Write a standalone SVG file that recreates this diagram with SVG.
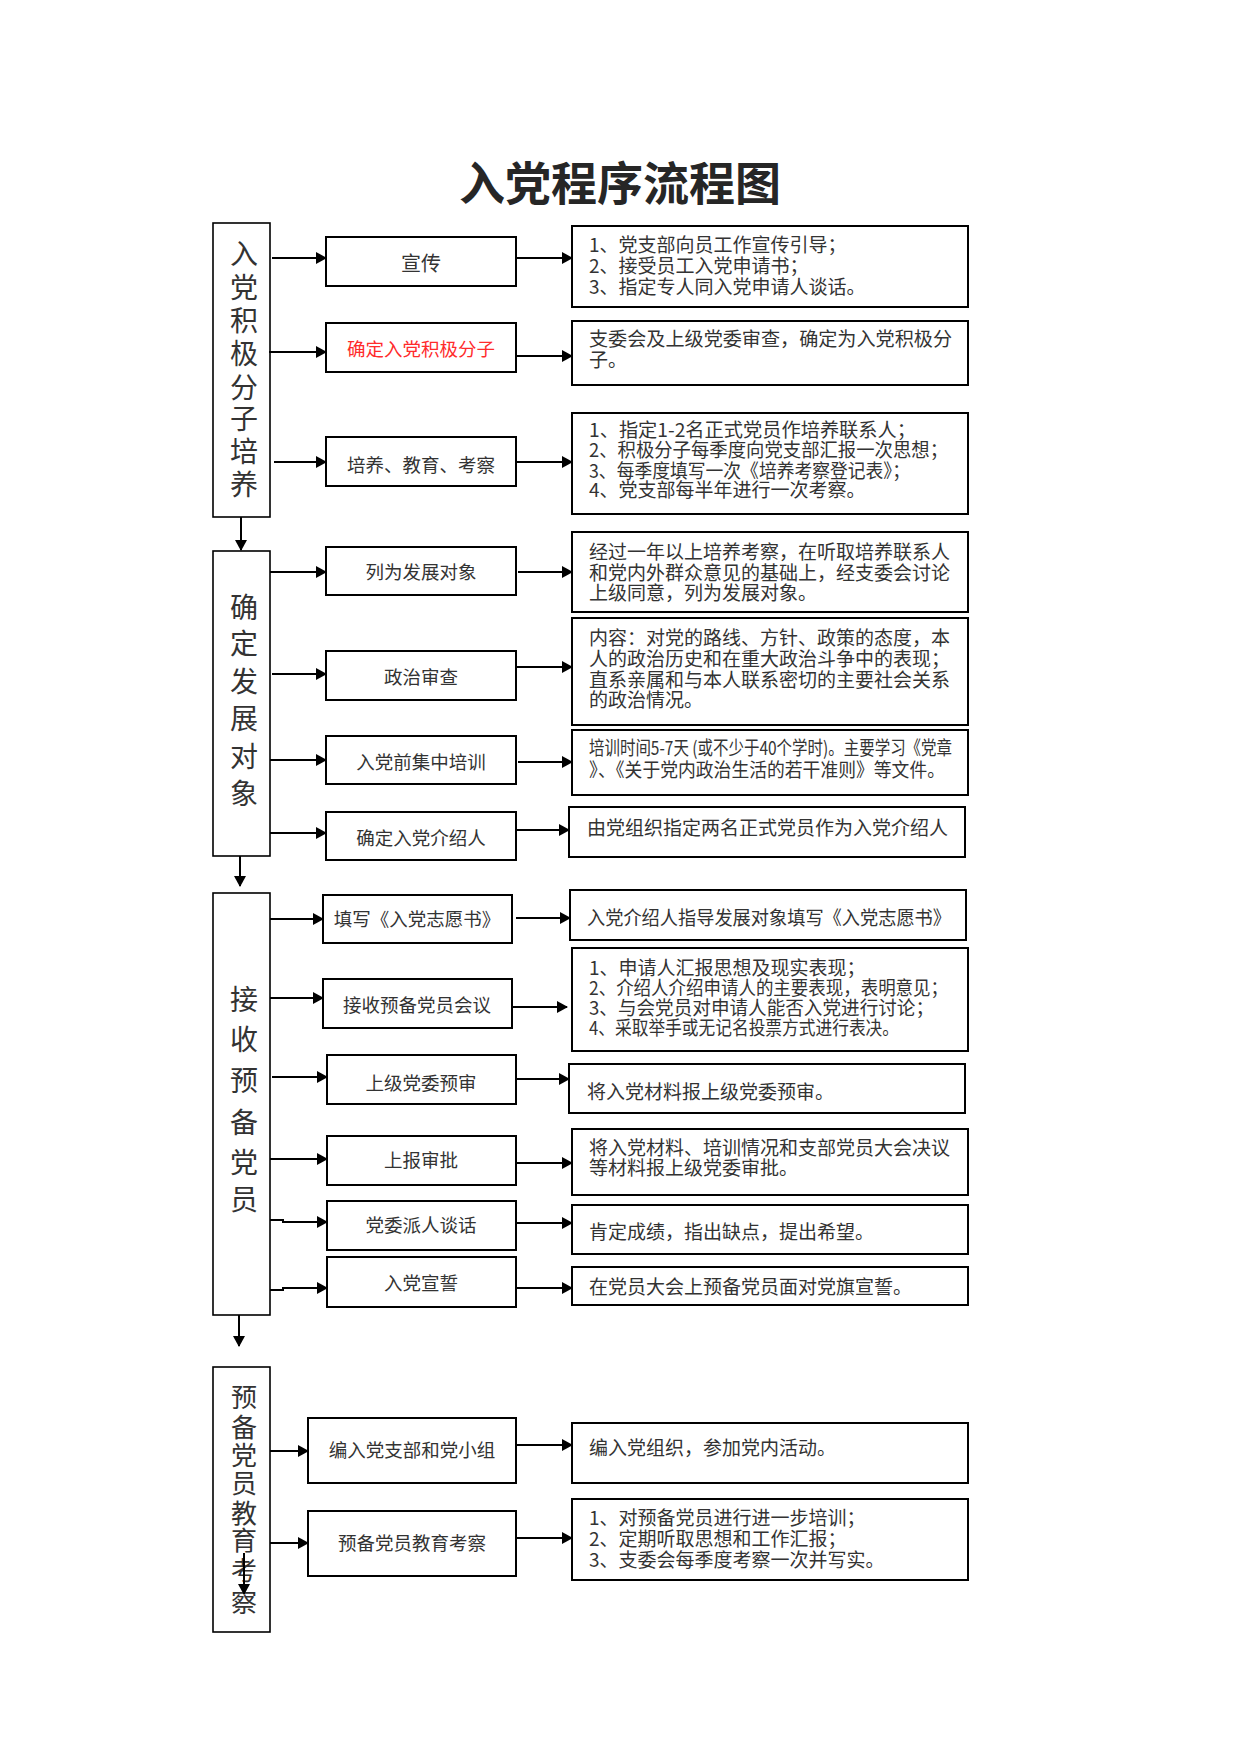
<svg xmlns="http://www.w3.org/2000/svg" width="1241" height="1754" viewBox="0 0 1241 1754">
<style>
.box{fill:#fff;stroke:#000;stroke-width:2}
.col{fill:#fff;stroke:#000;stroke-width:1.6}
.t{font-family:"Noto Sans CJK SC","Liberation Serif",serif;fill:#333;font-size:19px}
.lb{font-family:"Noto Sans CJK SC","Liberation Serif",serif;fill:#333;font-size:18.5px;text-anchor:middle}
.ct{font-family:"Noto Sans CJK SC","Liberation Serif",serif;fill:#333;font-size:28px;text-anchor:middle}
.title{font-family:"Noto Sans CJK SC","Liberation Sans",sans-serif;fill:#262626;font-size:46px;font-weight:bold;text-anchor:middle}
.cn{fill:none;stroke:#000;stroke-width:2;marker-end:url(#ah)}
</style>
<defs>
<marker id="ah" markerUnits="userSpaceOnUse" markerWidth="11" markerHeight="12" refX="10" refY="6" orient="auto">
<path d="M0,0 L11,6 L0,12 z" fill="#000"/>
</marker>
</defs>
<rect width="1241" height="1754" fill="#fff"/>
<text class="title" x="620" y="200">入党程序流程图</text>

<g id="col1">
<rect class="col" x="213" y="223" width="57" height="294"/>
<text class="ct"><tspan x="244" y="264">入</tspan><tspan x="244" y="298">党</tspan><tspan x="244" y="331">积</tspan><tspan x="244" y="364">极</tspan><tspan x="244" y="398">分</tspan><tspan x="244" y="429">子</tspan><tspan x="244" y="462">培</tspan><tspan x="244" y="495">养</tspan></text>
</g>
<g id="col2">
<rect class="col" x="213" y="551" width="57" height="305"/>
<text class="ct"><tspan x="244" y="618">确</tspan><tspan x="244" y="654">定</tspan><tspan x="244" y="692">发</tspan><tspan x="244" y="729">展</tspan><tspan x="244" y="767">对</tspan><tspan x="244" y="804">象</tspan></text>
</g>
<g id="col3">
<rect class="col" x="213" y="893" width="57" height="422"/>
<text class="ct"><tspan x="244" y="1010">接</tspan><tspan x="244" y="1050">收</tspan><tspan x="244" y="1091">预</tspan><tspan x="244" y="1133">备</tspan><tspan x="244" y="1173">党</tspan><tspan x="244" y="1210">员</tspan></text>
</g>
<g id="col4">
<rect class="col" x="213" y="1367" width="57" height="265"/>
<text class="ct" style="font-size:26px"><tspan x="244" y="1407">预</tspan><tspan x="244" y="1437">备</tspan><tspan x="244" y="1465">党</tspan><tspan x="244" y="1493">员</tspan><tspan x="244" y="1523">教</tspan><tspan x="244" y="1550">育</tspan><tspan x="244" y="1580">考</tspan><tspan x="244" y="1612">察</tspan></text>
</g>

<g id="n-xuanchuan"><rect class="box" x="326" y="237" width="190" height="49"/><text class="lb" x="421" y="271" style="font-size:20px">宣传</text></g>
<g id="d-xuanchuan"><rect class="box" x="572" y="226" width="396" height="81"/>
<text class="t"><tspan x="589" y="252">1、党支部向员工作宣传引导；</tspan><tspan x="589" y="273">2、接受员工入党申请书；</tspan><tspan x="589" y="294">3、指定专人同入党申请人谈话。</tspan></text></g>

<g id="n-jiji"><rect class="box" x="326" y="323" width="190" height="49"/><text class="lb" x="421" y="356" style="fill:#ff2b2b">确定入党积极分子</text></g>
<g id="d-jiji"><rect class="box" x="572" y="321" width="396" height="64"/>
<text class="t"><tspan x="589" y="346" textLength="363" lengthAdjust="spacingAndGlyphs">支委会及上级党委审查，确定为入党积极分</tspan><tspan x="589" y="367">子。</tspan></text></g>

<g id="n-peiyang"><rect class="box" x="326" y="437" width="190" height="49"/><text class="lb" x="421" y="472">培养、教育、考察</text></g>
<g id="d-peiyang"><rect class="box" x="572" y="413" width="396" height="101"/>
<text class="t"><tspan x="589" y="437" textLength="327" lengthAdjust="spacingAndGlyphs">1、指定1-2名正式党员作培养联系人；</tspan><tspan x="589" y="457" textLength="359" lengthAdjust="spacingAndGlyphs">2、积极分子每季度向党支部汇报一次思想；</tspan><tspan x="589" y="478" textLength="321" lengthAdjust="spacingAndGlyphs">3、每季度填写一次《培养考察登记表》；</tspan><tspan x="589" y="497">4、党支部每半年进行一次考察。</tspan></text></g>

<g id="n-fazhan"><rect class="box" x="326" y="547" width="190" height="48"/><text class="lb" x="421" y="579">列为发展对象</text></g>
<g id="d-fazhan"><rect class="box" x="572" y="532" width="396" height="80"/>
<text class="t"><tspan x="589" y="559" textLength="361" lengthAdjust="spacingAndGlyphs">经过一年以上培养考察，在听取培养联系人</tspan><tspan x="589" y="580" textLength="361" lengthAdjust="spacingAndGlyphs">和党内外群众意见的基础上，经支委会讨论</tspan><tspan x="589" y="600">上级同意，列为发展对象。</tspan></text></g>

<g id="n-zhengshen"><rect class="box" x="326" y="651" width="190" height="49"/><text class="lb" x="421" y="684">政治审查</text></g>
<g id="d-zhengshen"><rect class="box" x="572" y="618" width="396" height="107"/>
<text class="t"><tspan x="589" y="645" textLength="361" lengthAdjust="spacingAndGlyphs">内容：对党的路线、方针、政策的态度，本</tspan><tspan x="589" y="666" textLength="361" lengthAdjust="spacingAndGlyphs">人的政治历史和在重大政治斗争中的表现；</tspan><tspan x="589" y="687" textLength="361" lengthAdjust="spacingAndGlyphs">直系亲属和与本人联系密切的主要社会关系</tspan><tspan x="589" y="707">的政治情况。</tspan></text></g>

<g id="n-peixun"><rect class="box" x="326" y="736" width="190" height="48"/><text class="lb" x="421" y="769">入党前集中培训</text></g>
<g id="d-peixun"><rect class="box" x="572" y="730" width="396" height="65"/>
<text class="t"><tspan x="589" y="755" textLength="363" lengthAdjust="spacingAndGlyphs">培训时间5-7天 (或不少于40个学时)。主要学习《党章</tspan><tspan x="589" y="777" textLength="356" lengthAdjust="spacingAndGlyphs">》、《关于党内政治生活的若干准则》等文件。</tspan></text></g>

<g id="n-jieshaoren"><rect class="box" x="326" y="812" width="190" height="48"/><text class="lb" x="421" y="845">确定入党介绍人</text></g>
<g id="d-jieshaoren"><rect class="box" x="569" y="807" width="396" height="50"/>
<text class="t"><tspan x="587" y="835">由党组织指定两名正式党员作为入党介绍人</tspan></text></g>

<g id="n-zhiyuanshu"><rect class="box" x="323" y="895" width="189" height="48"/><text class="lb" x="417" y="926">填写《入党志愿书》</text></g>
<g id="d-zhiyuanshu"><rect class="box" x="570" y="890" width="396" height="50"/>
<text class="t"><tspan x="587" y="925" textLength="364" lengthAdjust="spacingAndGlyphs">入党介绍人指导发展对象填写《入党志愿书》</tspan></text></g>

<g id="n-huiyi"><rect class="box" x="323" y="979" width="189" height="49"/><text class="lb" x="417" y="1012">接收预备党员会议</text></g>
<g id="d-huiyi"><rect class="box" x="572" y="948" width="396" height="103"/>
<text class="t"><tspan x="589" y="975">1、申请人汇报思想及现实表现；</tspan><tspan x="589" y="995" textLength="359" lengthAdjust="spacingAndGlyphs">2、介绍人介绍申请人的主要表现，表明意见；</tspan><tspan x="589" y="1015" textLength="345" lengthAdjust="spacingAndGlyphs">3、与会党员对申请人能否入党进行讨论；</tspan><tspan x="589" y="1035" textLength="310" lengthAdjust="spacingAndGlyphs">4、采取举手或无记名投票方式进行表决。</tspan></text></g>

<g id="n-yushen"><rect class="box" x="327" y="1055" width="189" height="49"/><text class="lb" x="421" y="1090">上级党委预审</text></g>
<g id="d-yushen"><rect class="box" x="569" y="1064" width="396" height="49"/>
<text class="t"><tspan x="587" y="1099">将入党材料报上级党委预审。</tspan></text></g>

<g id="n-shenpi"><rect class="box" x="327" y="1136" width="189" height="49"/><text class="lb" x="421" y="1167">上报审批</text></g>
<g id="d-shenpi"><rect class="box" x="572" y="1129" width="396" height="66"/>
<text class="t"><tspan x="589" y="1155" textLength="361" lengthAdjust="spacingAndGlyphs">将入党材料、培训情况和支部党员大会决议</tspan><tspan x="589" y="1175">等材料报上级党委审批。</tspan></text></g>

<g id="n-tanhua"><rect class="box" x="327" y="1201" width="189" height="49"/><text class="lb" x="421" y="1232">党委派人谈话</text></g>
<g id="d-tanhua"><rect class="box" x="572" y="1205" width="396" height="49"/>
<text class="t"><tspan x="589" y="1239">肯定成绩，指出缺点，提出希望。</tspan></text></g>

<g id="n-xuanshi"><rect class="box" x="327" y="1257" width="189" height="50"/><text class="lb" x="421" y="1290">入党宣誓</text></g>
<g id="d-xuanshi"><rect class="box" x="572" y="1267" width="396" height="38"/>
<text class="t"><tspan x="589" y="1294">在党员大会上预备党员面对党旗宣誓。</tspan></text></g>

<g id="n-bianru"><rect class="box" x="308" y="1418" width="208" height="65"/><text class="lb" x="412" y="1457">编入党支部和党小组</text></g>
<g id="d-bianru"><rect class="box" x="572" y="1423" width="396" height="60"/>
<text class="t"><tspan x="589" y="1455">编入党组织，参加党内活动。</tspan></text></g>

<g id="n-kaocha"><rect class="box" x="308" y="1511" width="208" height="65"/><text class="lb" x="412" y="1550">预备党员教育考察</text></g>
<g id="d-kaocha"><rect class="box" x="572" y="1499" width="396" height="81"/>
<text class="t"><tspan x="589" y="1525">1、对预备党员进行进一步培训；</tspan><tspan x="589" y="1546">2、定期听取思想和工作汇报；</tspan><tspan x="589" y="1567">3、支委会每季度考察一次并写实。</tspan></text></g>

<g id="connectors">
<path class="cn" d="M272,258 H326"/>
<path class="cn" d="M516,258 H572"/>
<path class="cn" d="M269,352 H326"/>
<path class="cn" d="M516,356 H572"/>
<path class="cn" d="M274,462 H326"/>
<path class="cn" d="M516,462 H572"/>
<path class="cn" d="M241,517 V550"/>
<path class="cn" d="M270,572 H326"/>
<path class="cn" d="M518,572 H572"/>
<path class="cn" d="M272,674 H326"/>
<path class="cn" d="M516,667 H572"/>
<path class="cn" d="M270,760 H326"/>
<path class="cn" d="M518,762 H572"/>
<path class="cn" d="M270,833 H326"/>
<path class="cn" d="M516,830 H569"/>
<path class="cn" d="M240,856 V886"/>
<path class="cn" d="M270,919 H323"/>
<path class="cn" d="M516,918 H570"/>
<path class="cn" d="M270,998 H323"/>
<path class="cn" d="M511,1007 H567"/>
<path class="cn" d="M272,1077 H327"/>
<path class="cn" d="M516,1079 H569"/>
<path class="cn" d="M270,1159 H327"/>
<path class="cn" d="M516,1163 H572"/>
<path class="cn" d="M270,1220 H283 V1222 H327"/>
<path class="cn" d="M516,1223 H572"/>
<path class="cn" d="M270,1290 H283 V1288 H327"/>
<path class="cn" d="M516,1288 H572"/>
<path class="cn" d="M239,1315 V1346"/>
<path class="cn" d="M270,1451 H308"/>
<path class="cn" d="M516,1445 H572"/>
<path class="cn" d="M270,1543 H308"/>
<path class="cn" d="M516,1538 H572"/>
<path class="cn" d="M244,1553 V1594"/>
</g>
</svg>
